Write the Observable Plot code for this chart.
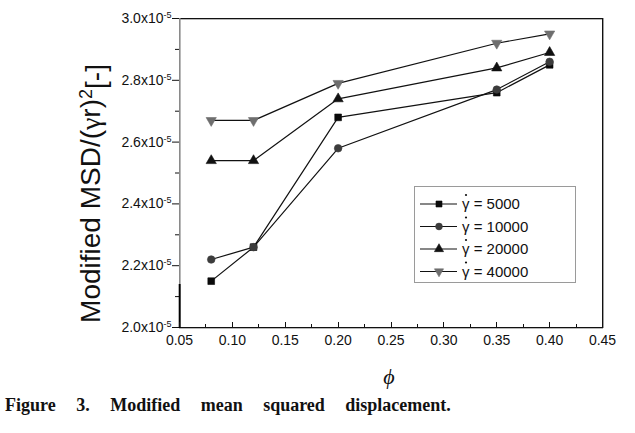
<!DOCTYPE html>
<html>
<head>
<meta charset="utf-8">
<script src="https://cdn.jsdelivr.net/npm/d3@7"></script>
<script src="https://cdn.jsdelivr.net/npm/@observablehq/plot@0.6"></script>
<style>
  body { margin: 0; background: white; overflow: hidden; }
  #caption { font-family: "Liberation Serif", "Times New Roman", serif; font-weight: bold; font-size: 18px;
             margin: 0 0 0 5px; line-height: 20px; word-spacing: 16px; color: #111; }
</style>
</head>
<body>
<div id="chart"></div>
<div id="caption">Figure 3. Modified mean squared displacement.</div>
<script>
// ---- data (MSD values in units of 1e-5) ----
const phi = [0.08, 0.12, 0.20, 0.35, 0.40];
const seriesNames = ["5000", "10000", "20000", "40000"];
const msd5000  = [2.15, 2.26, 2.68, 2.76, 2.85];
const msd10000 = [2.22, 2.26, 2.58, 2.77, 2.86];
const msd20000 = [2.54, 2.54, 2.74, 2.84, 2.89];
const msd40000 = [2.67, 2.67, 2.79, 2.92, 2.95];
const xTicks = [0.05, 0.10, 0.15, 0.20, 0.25, 0.30, 0.35, 0.40, 0.45];
const xMinor = [0.075, 0.125, 0.175, 0.225, 0.275, 0.325, 0.375, 0.425];
const yTicks = [2.0, 2.2, 2.4, 2.6, 2.8, 3.0];
const yMinor = [2.1, 2.3, 2.5, 2.7, 2.9];
const xDomain = [0.05, 0.45];
const yDomain = [2.0, 3.0];
const yLabelA = "Modified MSD/(";
const yLabelG = "\u03b3";
const yLabelB = "r)";
const xLabel = "\u03d5";

const allSeries = [msd5000, msd10000, msd20000, msd40000];
const rows = [];
seriesNames.forEach((s, i) => phi.forEach((p, j) => rows.push({series: s, phi: p, v: allSeries[i][j]})));

const sqrt3 = Math.sqrt(3);
const triangleDown = {
  draw(context, size) {
    const y = -Math.sqrt(size / (sqrt3 * 3));
    context.moveTo(0, -y * 2);
    context.lineTo(-sqrt3 * y, y);
    context.lineTo(sqrt3 * y, y);
    context.closePath();
  }
};
const symbols = [d3.symbolSquare, d3.symbolCircle, d3.symbolTriangle, triangleDown];
const fills = ["#0a0a0a", "#3c3c3c", "#111111", "#6e6e6e"];

const W = 635, H = 395, mL = 179, mR = 33, mT = 18, mB = 68;
const plotH = H - mT - mB;

const chart = Plot.plot({
  width: W, height: H,
  marginLeft: mL, marginRight: mR, marginTop: mT, marginBottom: mB,
  x: {domain: xDomain},
  y: {domain: yDomain},
  symbol: {domain: seriesNames, range: symbols},
  color: {domain: seriesNames, range: fills},
  style: {fontFamily: "'Liberation Sans', Arial, sans-serif", fontSize: "14px", color: "#111", background: "white"},
  marks: [
    Plot.axisY({ticks: yTicks, tickSize: 7, tickPadding: 1, tickFormat: d => d.toFixed(1) + "x10", label: null, fontSize: 14}),
    Plot.axisY({ticks: yMinor, tickSize: 4, tickFormat: () => "", label: null}),
    Plot.axisX({ticks: xTicks, tickSize: 0, tickPadding: 8, tickFormat: d3.format(".2f"), label: null, fontSize: 14}),
    Plot.line(rows, {x: "phi", y: "v", z: "series", stroke: "#111", strokeWidth: 1.2}),
    Plot.dot(rows, {x: "phi", y: "v", symbol: "series", fill: "series", stroke: "series", strokeWidth: 0.6, r: 3.8})
  ]
});
document.getElementById("chart").appendChild(chart);

const svg = d3.select(chart);
const sx = chart.scale("x"), sy = chart.scale("y");
const X = v => sx.apply(v), Y = v => sy.apply(v);

// superscripts on y tick labels
svg.selectAll('g[aria-label="y-axis tick label"] text').each(function() {
  if (this.textContent.length) {
    d3.select(this).append("tspan").attr("dy", "-0.55em").attr("font-size", "9px").text("-5");
  }
});
// y-axis title
const yt = svg.append("text")
  .attr("transform", `translate(100, ${mT + plotH / 2 + 21}) rotate(-90)`)
  .attr("text-anchor", "middle")
  .attr("font-family", "'Liberation Sans', Arial, sans-serif")
  .attr("font-size", 28).attr("fill", "#111");
yt.append("tspan").text(yLabelA);
yt.append("tspan").attr("font-family", "'Liberation Serif', serif").text(yLabelG);
yt.append("tspan").text(yLabelB);
yt.append("tspan").attr("dy", "-0.45em").attr("font-size", 18).text("2");
yt.append("tspan").attr("dy", "0.45em").text("[-]");
// x-axis title
svg.append("text").attr("x", 389).attr("y", 384)
  .attr("text-anchor", "middle")
  .attr("font-family", "'Liberation Serif', 'DejaVu Serif', serif")
  .attr("font-style", "italic").attr("font-size", 22).attr("fill", "#111").text(xLabel);

// legend
const lg = svg.append("g").attr("font-family", "'Liberation Sans', Arial, sans-serif").attr("font-size", 15).attr("text-anchor", "start");
lg.append("rect").attr("x", 414.5).attr("y", 186.5).attr("width", 161).attr("height", 96)
  .attr("fill", "white").attr("stroke", "#9a9a9a");
seriesNames.forEach((s, i) => {
  const yy = 204 + i * 22.5;
  lg.append("line").attr("x1", 420).attr("x2", 457).attr("y1", yy).attr("y2", yy).attr("stroke", "#111").attr("stroke-width", 1.2);
  lg.append("path").attr("transform", `translate(439,${yy})`)
    .attr("d", d3.symbol(symbols[i], Math.PI * 3.4 * 3.4)())
    .attr("fill", fills[i]).attr("stroke", fills[i]).attr("stroke-width", 0.6);
  lg.append("text").attr("x", 462).attr("y", yy + 5).attr("fill", "#111").attr("text-anchor", "start").text("\u03b3 = " + s);
  lg.append("circle").attr("cx", 466).attr("cy", yy - 9).attr("r", 1.1).attr("fill", "#111");
});

// frame and inward bottom ticks as thin filled rectangles, placed with the plot's own scales
const x0 = Math.round(X(xDomain[0])), x1 = Math.round(X(xDomain[1])), y0 = Math.round(Y(yDomain[0])), y1 = Math.round(Y(yDomain[1]));
const fr = svg.append("g").attr("stroke", "none");
const bar = (x, y, w, h, c) => fr.append("rect").attr("x", x).attr("y", y).attr("width", w).attr("height", h).attr("fill", c);
bar(x0, y1, x1 - x0 + 1, 1.3, "#111");             // top
bar(x1, y1, 1.4, y0 - y1 + 1, "#111");             // right
bar(x0, y0, x1 - x0 + 1, 1.3, "#111");             // bottom
bar(x0, y1, 1.6, Math.round(Y(2.14)) - y1, "#8a8a8a");      // left (upper, grey)
bar(x0 - 0.3, Math.round(Y(2.14)), 2, y0 - Math.round(Y(2.14)) + 1, "#000"); // left (lower, black)
xTicks.forEach(t => bar(Math.round(X(t)), y0 - 5, 1, 5, "#111"));
xMinor.forEach(t => bar(Math.round(X(t)), y0 - 3, 1, 3, "#111"));
</script>
</body>
</html>
